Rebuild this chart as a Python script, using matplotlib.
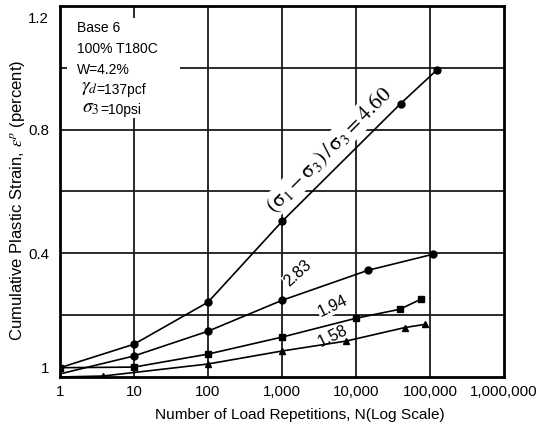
import matplotlib
matplotlib.use("Agg")
import matplotlib.pyplot as plt
import matplotlib.transforms as mtransforms
from matplotlib.patches import Rectangle

plt.rcParams['font.family'] = ['Liberation Sans', 'DejaVu Sans']
plt.rcParams['mathtext.fontset'] = 'stix'

# stress ratio curves: load repetitions vs cumulative plastic strain (%)
n_460 = [1, 10, 100, 1000, 40000, 125000]
eps_460 = [0.03, 0.106, 0.242, 0.503, 0.884, 0.994]

n_283 = [1, 10, 100, 1000, 14500, 110000]
eps_283 = [0.01, 0.068, 0.148, 0.248, 0.345, 0.397]

n_194 = [1, 10, 100, 1000, 10000, 39000, 76000]
eps_194 = [0.03, 0.032, 0.074, 0.129, 0.19, 0.219, 0.252]

n_158 = [1, 3.8, 100, 1000, 7300, 46000, 85000]
eps_158 = [0.0, 0.003, 0.042, 0.084, 0.116, 0.16, 0.17]

xticks = [1, 10, 100, 1000, 10000, 100000, 1000000]
xtick_labels = ['1', '10', '100', '1,000', '10,000', '100,000', '1,000,000']
yticks = [0, 0.4, 0.8, 1.2]
ytick_labels = ['1', '0.4', '0.8', '1.2']

fig = plt.figure(figsize=(5.42, 4.28), dpi=100)
ax = fig.add_axes([0.1107, 0.1192, 0.8192, 0.8668])

ax.set_xscale('log')
ax.set_xlim(1, 1e6)
ax.set_ylim(0, 1.2)

# grid
for gx in xticks[1:-1]:
    ax.axvline(gx, color='#1a1a1a', lw=1.3, zorder=1)
for gy in [0.2, 0.4, 0.6, 0.8, 1.0]:
    ax.axhline(gy, color='#1a1a1a', lw=1.3, zorder=1)

for s in ax.spines.values():
    s.set_linewidth(2.0)

kw = dict(color='black', lw=1.2, zorder=4)
ax.plot(n_460, eps_460, marker='o', ms=5, markevery=list(range(1, len(n_460))), **kw)
ax.plot(n_283, eps_283, marker='o', ms=5, markevery=list(range(1, len(n_283))), **kw)
ax.plot(n_194, eps_194, marker='s', ms=5, **kw)
ax.plot(n_158, eps_158, marker='^', ms=5, markevery=list(range(1, len(n_158))), **kw)

ax.set_xticks(xticks)
ax.set_xticklabels(xtick_labels)
ax.minorticks_off()
ax.set_yticks(yticks)
ax.set_yticklabels(ytick_labels)
ax.tick_params(length=0, labelsize=10.8)
ax.tick_params(axis='x', pad=6)
ax.tick_params(axis='y', pad=8)

# end labels sit a little inside the frame
labs = ax.get_yticklabels()
labs[0].set_transform(labs[0].get_transform() + mtransforms.ScaledTranslation(0, 0.09, fig.dpi_scale_trans))
labs[-1].set_transform(labs[-1].get_transform() + mtransforms.ScaledTranslation(0, -0.12, fig.dpi_scale_trans))

ax.set_xlabel('Number of Load Repetitions, N(Log Scale)', fontsize=11.1)
ax.xaxis.set_label_coords(0.539, -0.083)
ax.set_ylabel(r'Cumulative Plastic Strain, $\varepsilon^p$ (percent)', fontsize=12)
ax.yaxis.set_label_coords(-0.075, 0.477)

# specimen info box
ax.add_patch(Rectangle((0.016, 0.698), 0.255, 0.27, transform=ax.transAxes,
                       facecolor='white', edgecolor='none', zorder=2))
info = [('Base 6', 0.038, 0.941),
        ('100% T180C', 0.038, 0.883),
        ('W=4.2%', 0.038, 0.828)]
for txt, tx, ty in info:
    ax.text(tx, ty, txt, transform=ax.transAxes, fontsize=10, va='center', ha='left', zorder=3)
ax.text(0.048, 0.777, r'$\gamma_d$', transform=ax.transAxes, fontsize=14, va='center', ha='left', zorder=3)
ax.text(0.083, 0.774, '=137pcf', transform=ax.transAxes, fontsize=10, va='center', ha='left', zorder=3)
ax.text(0.050, 0.723, r'$\sigma_3$', transform=ax.transAxes, fontsize=14, va='center', ha='left', zorder=3)
ax.text(0.090, 0.720, '=10psi', transform=ax.transAxes, fontsize=10, va='center', ha='left', zorder=3)

# curve labels
box = dict(facecolor='white', edgecolor='none', pad=0.5)
ax.text(4300, 0.735, r'$(\mathrm{\sigma}_1-\mathrm{\sigma}_3)\,/\,\mathrm{\sigma}_3=4.60$', fontsize=15.5,
        rotation=45, ha='center', va='center', bbox=box, zorder=3)
ax.text(1645, 0.335, '2.83', fontsize=11.5, rotation=42, ha='center', va='center', bbox=box, zorder=3)
ax.text(4890, 0.229, '1.94', fontsize=11.5, rotation=26, ha='center', va='center', bbox=box, zorder=3)
ax.text(4890, 0.132, '1.58', fontsize=11.5, rotation=26, ha='center', va='center', bbox=box, zorder=3)

fig.savefig('out.png', dpi=100)
